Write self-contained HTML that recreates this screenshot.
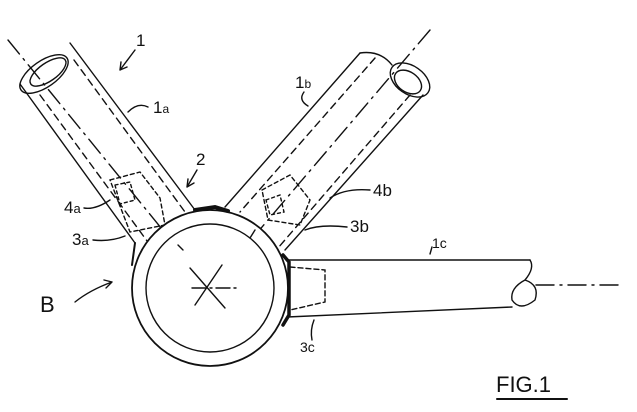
<!DOCTYPE html>
<html><head><meta charset="utf-8"><style>html,body{margin:0;padding:0;background:#fff;}svg{display:block}</style></head>
<body>
<svg width="637" height="412" viewBox="0 0 637 412" xmlns="http://www.w3.org/2000/svg" fill="none" stroke="#111" stroke-width="1.4" stroke-linecap="round" font-family="Liberation Sans, sans-serif">
<!-- tube 1a -->
<line x1="20" y1="84" x2="135" y2="243"/>
<line x1="70" y1="43" x2="195" y2="210"/>
<ellipse cx="44" cy="74" rx="28" ry="13" transform="rotate(-35 44 74)"/>
<ellipse cx="48" cy="72" rx="21" ry="9" transform="rotate(-35 48 72)"/>
<line x1="40" y1="95" x2="150" y2="245" stroke-dasharray="7 5"/>
<line x1="74" y1="60" x2="185" y2="212" stroke-dasharray="7 5"/>
<line x1="8" y1="40" x2="210" y2="288" stroke-dasharray="18 6 2 6"/>
<path d="M110 180 L140 172 L160 198 L165 225 L130 232 Z" stroke-dasharray="4 3"/>
<path d="M115 185 L130 182 L135 200 L120 204 Z" stroke-dasharray="3 3"/>
<!-- tube 1b -->
<line x1="360" y1="53" x2="225" y2="207"/>
<line x1="423" y1="95" x2="285" y2="250"/>
<path d="M360 53 Q380 50 392 65"/>
<ellipse cx="410" cy="80" rx="22" ry="14" transform="rotate(35 410 80)"/>
<ellipse cx="408" cy="82" rx="15" ry="10" transform="rotate(35 408 82)"/>
<line x1="375" y1="58" x2="240" y2="212" stroke-dasharray="7 5"/>
<line x1="410" y1="95" x2="278" y2="248" stroke-dasharray="7 5"/>
<line x1="430" y1="30" x2="210" y2="288" stroke-dasharray="18 6 2 6"/>
<path d="M262 190 L290 175 L310 200 L300 225 L268 220 Z" stroke-dasharray="4 3"/>
<path d="M266 200 L280 195 L284 212 L270 215 Z" stroke-dasharray="3 3"/>
<!-- tube 1c -->
<line x1="287" y1="260" x2="530" y2="260"/>
<line x1="287" y1="317" x2="512" y2="307"/>
<path d="M530 260 Q535 268 525 280 Q540 285 535 300 Q520 312 512 300 Q510 288 525 280"/>
<path d="M290 267 L325 270 L325 302 L290 310" stroke-dasharray="5 3"/>
<line x1="536" y1="285" x2="618" y2="285" stroke-dasharray="18 6 2 6"/>
<!-- bracket -->
<circle cx="210" cy="288" r="78" fill="#fff" stroke-width="1.8"/>
<circle cx="210" cy="288" r="64"/>
<path d="M195 210 L215 207 L228 211" stroke-width="4"/>
<path d="M283 255 L289 262 L289 315 L283 325" stroke-width="3.5"/>
<path d="M135 243 L132 265" stroke-width="2"/>
<line x1="190" y1="268" x2="225" y2="308"/>
<line x1="222" y1="265" x2="195" y2="305"/>
<line x1="192" y1="288" x2="240" y2="288" stroke-dasharray="14 4 2 4"/>
<line x1="178" y1="245" x2="183" y2="250"/>
<line x1="255" y1="230" x2="250" y2="238"/>
<!-- labels -->
<g fill="#111" stroke="none" font-size="17">
<text x="136" y="46">1</text>
<text x="153" y="113">1<tspan font-size="12">a</tspan></text>
<text x="196" y="165">2</text>
<text x="295" y="88">1<tspan font-size="12">b</tspan></text>
<text x="64" y="213">4<tspan font-size="13">a</tspan></text>
<text x="72" y="245">3<tspan font-size="13">a</tspan></text>
<text x="373" y="196">4b</text>
<text x="350" y="232">3b</text>
<text x="432" y="248" font-size="14">1c</text>
<text x="300" y="352" font-size="14">3c</text>
<text x="40" y="312" font-size="22">B</text>
<text x="496" y="392" font-size="22">FIG.1</text>
</g>
<path d="M135 50 L120 70 M120 70 L121 62 M120 70 L127 67"/>
<path d="M148 107 Q138 102 128 112"/>
<path d="M197 170 L187 187 M187 187 L188 179 M187 187 L194 183"/>
<path d="M304 92 Q298 100 308 106"/>
<path d="M84 208 Q95 210 110 200"/>
<path d="M93 240 Q110 242 125 236"/>
<path d="M370 190 Q345 188 330 198"/>
<path d="M347 227 Q320 224 305 230"/>
<path d="M432 247 L430 254"/>
<path d="M312 340 Q310 330 314 320"/>
<path d="M75 302 Q90 290 112 282 M112 282 L104 280 M112 282 L106 288"/>
<line x1="497" y1="399" x2="567" y2="399" stroke-width="2"/>
</svg>
</body></html>
